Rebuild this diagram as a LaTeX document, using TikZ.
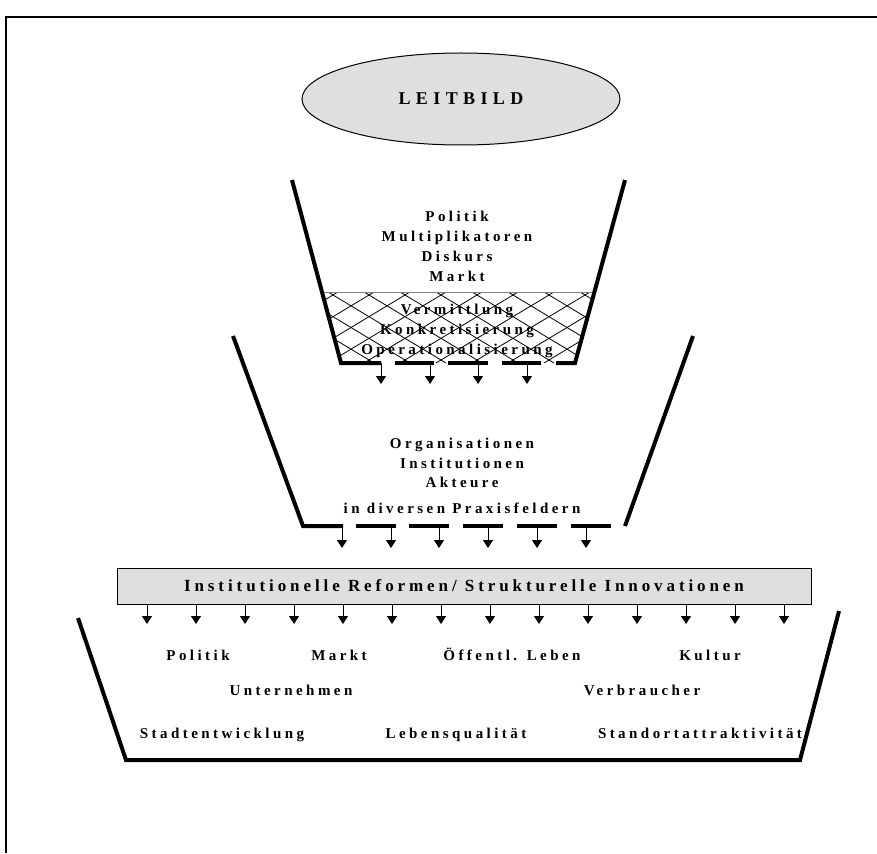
\documentclass[tikz,border=0pt]{standalone}
\usepackage{fontspec}
\setmainfont{Liberation Serif}
\newfontfamily\sperr[LetterSpace=23]{Liberation Serif}
\newfontfamily\weit[LetterSpace=30]{Liberation Serif}
\usetikzlibrary{arrows.meta,shapes.geometric}

\begin{document}
\begin{tikzpicture}[x=1pt,y=-1pt,
    wand/.style={line width=4pt, line join=miter},
    pfeil/.style={-{Triangle[width=10pt,length=8pt]}, line width=1pt},
    wort/.style={font=\sperr\bfseries\fontsize{15}{17}\selectfont, inner sep=0pt, anchor=base},
    grau/.style={draw, fill=gray!25, line width=1pt}]
    \useasboundingbox (0,0) rectangle (877,853);
    \draw[line width=1.5pt] (6,853) -- (6,17) -- (877,17);

    % Leitbild
    \node[grau, ellipse, minimum width=318pt, minimum height=92pt,
        font=\weit\bfseries\fontsize{18}{20}\selectfont] (leitbild) at (461,99) {LEITBILD};

    % oberer Trichter
    \begin{scope}
        \clip (322,292) -- (341,363) -- (575,363) -- (594,292) -- cycle;
        \foreach \i in {-5,...,12}
            \draw[line width=0.8pt] (220+36*\i,363) -- ++(118,-71);
        \foreach \i in {-5,...,12}
            \draw[line width=0.8pt] (220+36*\i,292) -- ++(118,71);
    \end{scope}
    \draw[gray, line width=0.8pt] (322,292) -- (594,292);
    \draw[wand] (292,180) -- (341,363) -- (381,363);
    \draw[wand] (625,180) -- (575,363) -- (556,363);
    \foreach \a/\b in {395/434,448/488,502/541}
        \draw[wand] (\a,363) -- (\b,363);
    \foreach \x in {381,430,478,527}
        \draw[pfeil] (\x,363) -- (\x,384);
    \node[wort] (politik) at (457,221.5) {Politik};
    \node[wort] (multi) at (457,241.5) {Multiplikatoren};
    \node[wort] (diskurs) at (457,261) {Diskurs};
    \node[wort] (markt) at (457,281) {Markt};
    \node[wort] (vermittlung) at (457,314.5) {Vermittlung};
    \node[wort] (konkret) at (457,334.5) {Konkretisierung};
    \node[wort] (operation) at (457,354) {Operationalisierung};

    % mittlerer Trichter
    \draw[wand] (233,336) -- (303,526) -- (343,526);
    \draw[wand] (693,336) -- (625,526);
    \foreach \a/\b in {356/396,409/449,463/503,517/557,571/611}
        \draw[wand] (\a,526) -- (\b,526);
    \foreach \x in {342,391,439,488,537,586}
        \draw[pfeil] (\x,526) -- (\x,548);
    \node[wort] (organisationen) at (462,448.5) {Organisationen};
    \node[wort] (institutionen) at (462,468.5) {Institutionen};
    \node[wort] (akteure) at (462,487) {Akteure};
    \node[wort] (praxis) at (462,513.5) {in diversen Praxisfeldern};

    % Balken
    \node[grau, minimum width=694pt, minimum height=36pt,
        font=\sperr\bfseries\fontsize{17}{19}\selectfont] (balken) at (464,586)
        {Institutionelle Reformen/ Strukturelle Innovationen};
    \foreach \x in {147,196,...,784}
        \draw[pfeil] (\x,604) -- (\x,624);

    % unterer Trichter
    \draw[wand] (78,618) -- (126,760) -- (800,760) -- (839,611);
    \node[wort] (politik2) at (198,660) {Politik};
    \node[wort] (markt2) at (339,660) {Markt};
    \node[wort] (leben) at (512,660) {Öffentl. Leben};
    \node[wort] (kultur) at (710,660) {Kultur};
    \node[wort] (unternehmen) at (291,695) {Unternehmen};
    \node[wort] (verbraucher) at (642,695) {Verbraucher};
    \node[wort] (stadt) at (222,738) {Stadtentwicklung};
    \node[wort] (qualitaet) at (456,738) {Lebensqualität};
    \node[wort] (standort) at (700,738) {Standortattraktivität};
\end{tikzpicture}
\end{document}
